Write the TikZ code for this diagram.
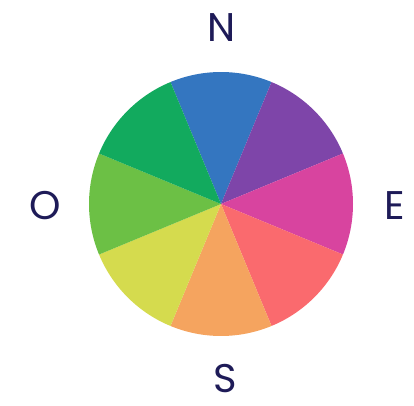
\documentclass[tikz,border=0pt]{standalone}
\usepackage{fontspec}
\setmainfont{Poppins}
\definecolor{navy}{HTML}{1E1B58}
\definecolor{cN}{HTML}{3476C0}
\definecolor{cNE}{HTML}{7E45A9}
\definecolor{cE}{HTML}{D8449F}
\definecolor{cSE}{HTML}{FA6A6E}
\definecolor{cS}{HTML}{F5A45F}
\definecolor{cSW}{HTML}{D5DB4E}
\definecolor{cW}{HTML}{6CC045}
\definecolor{cNW}{HTML}{12AA5E}

\begin{document}
\begin{tikzpicture}[x=1pt, y=1pt,
    compass/.style={text=navy, inner sep=0pt, font=\fontsize{40}{42}\selectfont}]
  \useasboundingbox (0,0) rectangle (414,405);
  \coordinate (c) at (221,201);
  % wedges, clockwise from north
  \foreach \col [count=\i from 0] in {cN,cNE,cE,cSE,cS,cSW,cW,cNW}
    \fill[\col] (c) -- ++(112.5-45*\i:132pt) arc[start angle=112.5-45*\i, end angle=67.5-45*\i, radius=132pt] -- cycle;
  % points of the compass
  \node[compass] (n) at (222,377) {N};
  \node[compass] (e) at (395,199) {E};
  \node[compass] (s) at (225,26) {S};
  \node[compass] (o) at (45,199) {O};
\end{tikzpicture}
\end{document}
